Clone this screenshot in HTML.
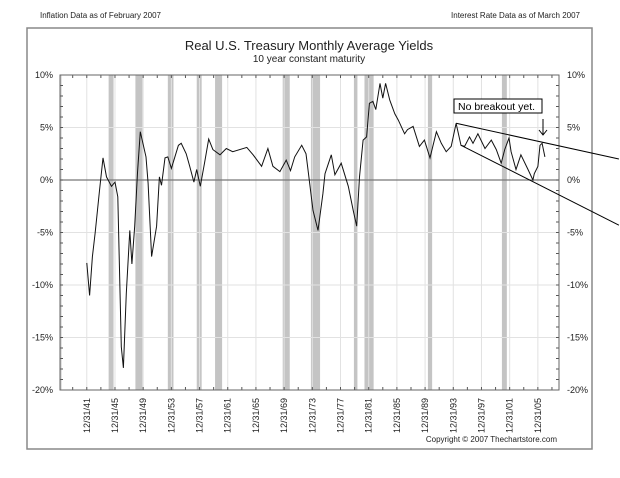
<!DOCTYPE html>
<html><head><meta charset="utf-8"><style>
body{margin:0;background:#fff;}
svg{display:block;font-family:"Liberation Sans",Arial,sans-serif;}
</style></head><body>
<svg id="c" width="620" height="478" viewBox="0 0 620 478">
<rect x="27" y="28" width="565" height="421" fill="#fff" stroke="#888" stroke-width="1.5"/>
<text x="40" y="18" font-size="8" fill="#222">Inflation Data as of February 2007</text>
<text x="580" y="18" font-size="8" fill="#222" text-anchor="end">Interest Rate Data as of March 2007</text>
<text x="309" y="50" font-size="13" fill="#222" text-anchor="middle">Real U.S. Treasury Monthly Average Yields</text>
<text x="309" y="62" font-size="10" fill="#222" text-anchor="middle">10 year constant maturity</text>
<text x="557" y="442" font-size="8" fill="#222" text-anchor="end">Copyright © 2007 Thechartstore.com</text>
<g id="plot"></g>
</svg>
<script>
const years=[1942.0,1942.4,1942.8,1943.2,1943.8,1944.3,1944.8,1945.5,1946.0,1946.4,1946.9,1947.2,1947.6,1948.1,1948.4,1948.8,1949.2,1949.6,1950.4,1950.7,1951.2,1951.9,1952.3,1952.6,1953.1,1953.5,1954.0,1955.0,1955.4,1956.1,1956.6,1957.2,1957.6,1958.1,1958.7,1959.3,1959.9,1960.9,1961.8,1962.7,1964.7,1965.6,1966.8,1967.7,1968.4,1969.4,1970.3,1970.9,1971.5,1972.5,1973.1,1973.4,1974.1,1974.8,1975.5,1975.8,1976.7,1977.2,1978.1,1979.1,1979.8,1980.3,1980.7,1981.2,1981.7,1982.1,1982.6,1983.0,1983.6,1984.0,1984.4,1985.0,1985.7,1986.2,1987.1,1987.5,1988.3,1989.2,1989.9,1990.7,1991.6,1992.3,1993.0,1993.7,1994.4,1995.1,1995.6,1996.3,1996.8,1997.5,1998.5,1999.4,2000.1,2000.8,2001.3,2001.9,2002.2,2002.9,2003.6,2004.6,2005.3,2005.5,2006.0,2006.3,2006.6,2007.0];
const yields=[-7.9,-11,-7.3,-5,-1,2.1,0.3,-0.6,-0.2,-1.6,-15.9,-17.9,-10.8,-4.8,-8,-4.4,0.7,4.6,2.2,-0.3,-7.3,-4.4,0.3,-0.5,2.1,2.2,1.1,3.3,3.5,2.5,1.3,-0.2,1.0,-0.6,1.6,3.9,2.9,2.4,3.0,2.7,3.1,2.4,1.3,3.0,1.3,0.8,1.9,0.9,2.2,3.3,2.5,0.9,-2.9,-4.8,-1.3,0.6,2.4,0.5,1.6,-0.6,-2.9,-4.4,0.3,3.8,4.1,7.3,7.5,6.7,9.2,7.8,9.2,7.6,6.3,5.7,4.4,4.8,5.1,3.2,3.8,2.1,4.6,3.5,2.7,3.2,5.4,3.3,3.2,4.1,3.5,4.4,3.0,3.8,2.9,1.6,2.9,4.0,2.7,1.0,2.4,1.0,0,0.6,1.3,3.3,3.5,2.2];
const recStart=[1937.4,1945.1,1948.9,1953.5,1957.6,1960.2,1969.8,1973.8,1979.9,1981.4,1990.4,2000.9];
const recEnd=[1938.3,1945.8,1949.9,1954.3,1958.3,1961.2,1970.8,1975.1,1980.4,1982.7,1991.0,2001.6];
const yTicks=[10,5,0,-5,-10,-15,-20];
const yTickLabels=["10%","5%","0%","-5%","-10%","-15%","-20%"];
const xTickYears=[1941,1945,1949,1953,1957,1961,1965,1969,1973,1977,1981,1985,1989,1993,1997,2001,2005];
const xTickLabels=["12/31/41","12/31/45","12/31/49","12/31/53","12/31/57","12/31/61","12/31/65","12/31/69","12/31/73","12/31/77","12/31/81","12/31/85","12/31/89","12/31/93","12/31/97","12/31/01","12/31/05"];
const upperTrendYears=[1994.4,2017.5];const upperTrendVals=[5.4,2.0];
const lowerTrendYears=[1995.1,2017.5];const lowerTrendVals=[3.3,-4.3];

const L=60,R=559,T=75,B=390,X0=1938.2,X1=2009.0,Ymin=-20,Ymax=10;
const xs=v=>L+(v-X0)/(X1-X0)*(R-L);
const ys=v=>B-(v-Ymin)/(Ymax-Ymin)*(B-T);
const NS="http://www.w3.org/2000/svg";
const g=document.getElementById('plot');
function mk(tag,attrs,parent){const e=document.createElementNS(NS,tag);for(const k in attrs)e.setAttribute(k,attrs[k]);(parent||g).appendChild(e);return e;}

// recession bars
for(let i=0;i<recStart.length;i++){
  const a=Math.max(xs(recStart[i]),L),b=xs(recEnd[i]);
  const r=mk('rect',{x:a,y:T,width:Math.max(b-a,1.5),height:B-T,fill:'#c4c4c4'});
  
  
}
// vertical grid
xTickYears.forEach((yr,i)=>{
  const x=xs(yr+1);
  const l=mk('line',{x1:x,x2:x,y1:T,y2:B,stroke:'#e2e2e2','stroke-width':1});
  
  
  const t=mk('text',{x:0,y:0,'font-size':9,fill:'#222','text-anchor':'end',transform:`translate(${x+3},${B+8}) rotate(-90)`});
  t.textContent=xTickLabels[i];
  
  
});
// horizontal grid & labels
yTicks.forEach((v,i)=>{
  const y=ys(v);
  const l=mk('line',{x1:L,x2:R,y1:y,y2:y,stroke:v===0?'#777':'#e2e2e2','stroke-width':v===0?1.2:1});
  
  
  const t=mk('text',{x:L-7,y:y+3,'font-size':9,fill:'#222','text-anchor':'end'});
  t.textContent=yTickLabels[i];
  
  
  const t2=mk('text',{x:R+8,y:y+3,'font-size':9,fill:'#222'});
  t2.textContent=yTickLabels[i];
  
  
});
// minor y ticks
for(let v=Ymin;v<=Ymax;v++){
  const y=ys(v);
  mk('line',{x1:L,x2:L+3,y1:y,y2:y,stroke:'#555'});
  mk('line',{x1:R-3,x2:R,y1:y,y2:y,stroke:'#555'});
}
// x ticks every 2 years
for(let yr=1940;yr<=2008;yr+=2){
  const x=xs(yr);
  mk('line',{x1:x,x2:x,y1:T,y2:T+3,stroke:'#555'});
  mk('line',{x1:x,x2:x,y1:B-3,y2:B,stroke:'#555'});
}
// axes
const ax=mk('rect',{x:L,y:T,width:R-L,height:B-T,fill:'none',stroke:'#666','stroke-width':1});


// series
let d='';years.forEach((yr,i)=>{d+=(i?'L':'M')+xs(yr).toFixed(1)+','+ys(yields[i]).toFixed(1);});
const p=mk('path',{d:d,fill:'none',stroke:'#111','stroke-width':1});


// trend lines
const tl1=mk('line',{x1:xs(upperTrendYears[0]),y1:ys(upperTrendVals[0]),x2:xs(upperTrendYears[1]),y2:ys(upperTrendVals[1]),stroke:'#000','stroke-width':1});


const tl2=mk('line',{x1:xs(lowerTrendYears[0]),y1:ys(lowerTrendVals[0]),x2:xs(lowerTrendYears[1]),y2:ys(lowerTrendVals[1]),stroke:'#000','stroke-width':1});


// annotation
const ab=mk('rect',{x:454,y:99,width:88,height:14,fill:'#fff',stroke:'#000','stroke-width':1});


const at=mk('text',{x:458,y:110,'font-size':10.5,fill:'#000'});
at.textContent='No breakout yet.';


const ar=mk('path',{d:'M543,119 L543,135 M539,130 L543,135 L547,130',fill:'none',stroke:'#000','stroke-width':1});


</script>
</body></html>
